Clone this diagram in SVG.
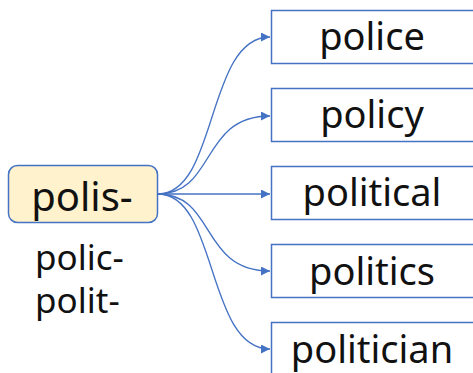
<svg xmlns="http://www.w3.org/2000/svg" width="473" height="373" viewBox="0 0 473 373">
<defs>
<style>
.txt{font-family:"Noto Sans","Liberation Sans",sans-serif;fill:#111;text-anchor:middle}
.var{font-family:"Noto Sans","Liberation Sans",sans-serif;fill:#111;font-size:35px}
.box{fill:#fff;stroke:#4472C4;stroke-width:1.5}
.root{fill:#FFF2CC;stroke:#4472C4;stroke-width:1.5}
.edge{fill:none;stroke:#4472C4;stroke-width:1.4}
</style>
<marker id="arr" viewBox="0 0 10 10" refX="10" refY="5" markerWidth="9" markerHeight="9" markerUnits="userSpaceOnUse" orient="auto">
<path d="M0,0 L10,5 L0,10 z" fill="#4472C4"/>
</marker>
</defs>
<rect width="473" height="373" fill="#fff"/>
<g id="connectors">
<path class="edge" marker-end="url(#arr)" d="M158,194 C218,194 206,37 270,37"/>
<path class="edge" marker-end="url(#arr)" d="M158,194 C216,194 200,116 270,116"/>
<path class="edge" marker-end="url(#arr)" d="M158,194 L270,194"/>
<path class="edge" marker-end="url(#arr)" d="M158,194 C216,194 200,271 270,271"/>
<path class="edge" marker-end="url(#arr)" d="M158,194 C218,194 206,349 270,349"/>
</g>
<g id="root">
<rect class="root" x="8.5" y="165.5" width="149" height="57" rx="9"/>
<text class="txt" x="82" y="211" font-size="40">polis-</text>
</g>
<g id="variants">
<text class="var" x="35" y="270">polic-</text>
<text class="var" x="35" y="313">polit-</text>
</g>
<g id="police">
<rect class="box" x="271.5" y="10.5" width="210" height="53"/>
<text class="txt" x="372" y="50" font-size="38">police</text>
</g>
<g id="policy">
<rect class="box" x="271.5" y="88.5" width="210" height="53"/>
<text class="txt" x="372" y="128" font-size="38">policy</text>
</g>
<g id="political">
<rect class="box" x="271.5" y="166.5" width="210" height="53"/>
<text class="txt" x="372" y="206" font-size="38">political</text>
</g>
<g id="politics">
<rect class="box" x="271.5" y="244.5" width="210" height="53"/>
<text class="txt" x="372" y="285" font-size="38">politics</text>
</g>
<g id="politician">
<rect class="box" x="271.5" y="322.5" width="210" height="53"/>
<text class="txt" x="372" y="363" font-size="38">politician</text>
</g>
</svg>
